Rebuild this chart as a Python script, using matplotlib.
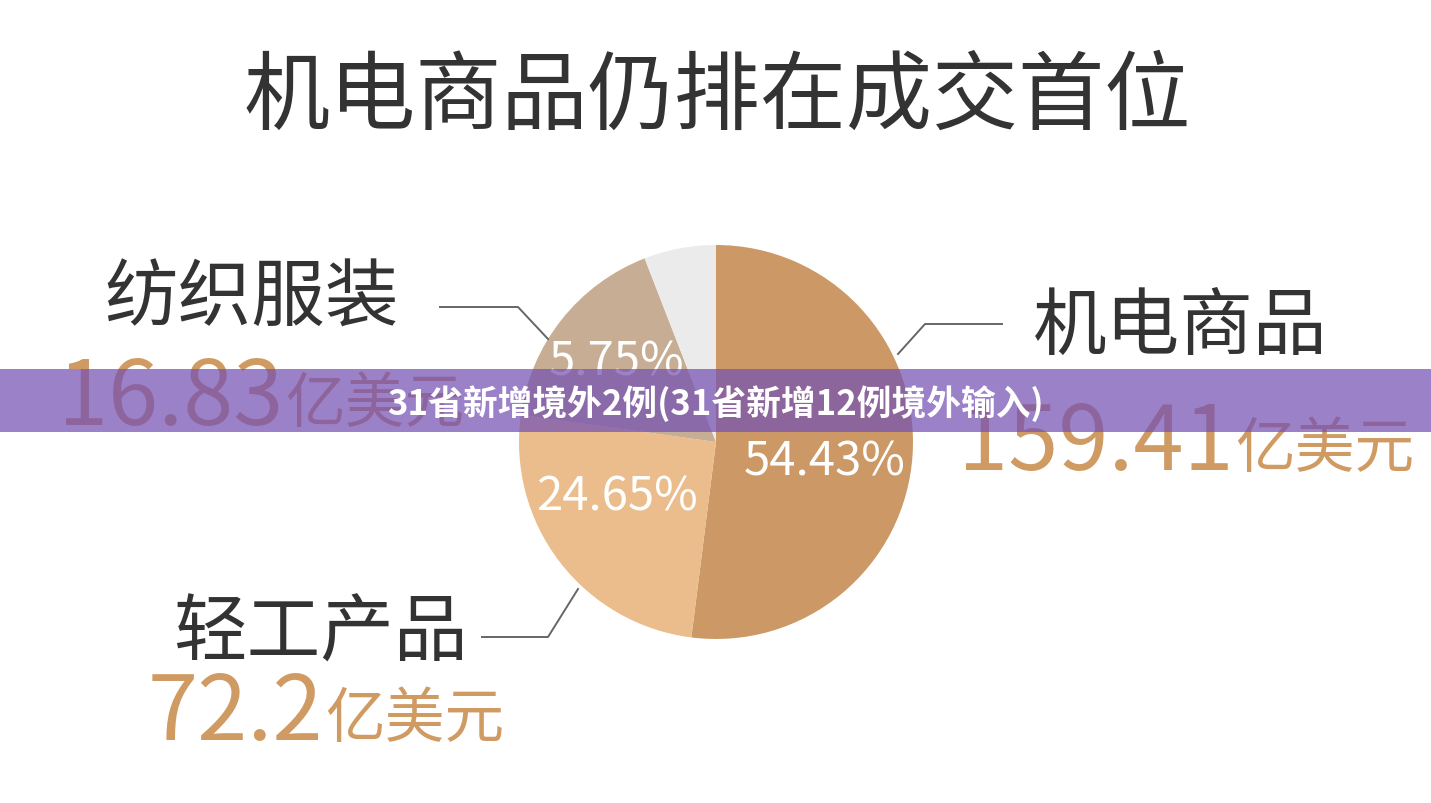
import matplotlib.pyplot as plt

plt.rcParams['font.family'] = ['Noto Sans CJK SC', 'DejaVu Sans']

# data (clockwise from 12 o'clock)
categories = ['机电商品', '轻工产品', '纺织服装', '其他']
# wedge sizes as drawn in the picture (the printed labels differ a little)
slice_shares = [52.0, 25.2, 16.9, 5.9]
pct_labels = ['54.43%', '24.65%', '5.75%', '']
amounts = ['159.41', '72.2', '16.83']
title = '机电商品仍排在成交首位'
banner = '31省新增境外2例(31省新增12例境外输入)'

colors = ['#CC9966', '#EBBC8C', '#C8AD95', '#EBEBEB']
W, H = 1431, 804

fig = plt.figure(figsize=(W / 100, H / 100), dpi=100)
ax = fig.add_axes([0, 0, 1, 1])


def y(p):
    # pixel row -> data y
    return H - p


cx, cy, r = 716, y(443), 197
wedges, _ = ax.pie(slice_shares, colors=colors, startangle=90, counterclock=False,
                   center=(cx, cy), radius=r, frame=True)
ax.set_xlim(0, W)
ax.set_ylim(0, H)
ax.set_aspect('equal')
ax.axis('off')

# percentage labels inside the slices
pct_pos = [(825, 462), (617, 497), (617, 362)]
for (px, py), s in zip(pct_pos, pct_labels[:3]):
    ax.text(px, y(py), s, color='white', fontsize=34, ha='center', va='center')

# title
ax.text(717, y(98), title, fontsize=62, color='#333333', ha='center', va='center')

# leader lines
line_kw = dict(color='#666666', lw=1.4)
ax.plot([898, 925, 1002], [y(355), y(325), y(325)], **line_kw)
ax.plot([440, 518, 548], [y(308), y(308), y(340)], **line_kw)
ax.plot([482, 548, 578], [y(638), y(638), y(590)], **line_kw)

# category names
ax.text(1180, y(328), categories[0], fontsize=53, color='#333333', ha='center', va='center')
ax.text(252, y(300), categories[2], fontsize=53, color='#333333', ha='center', va='center')
ax.text(320, y(635), categories[1], fontsize=53, color='#333333', ha='center', va='center')

# amounts
val_color = '#D09A63'
amt_pos = [(958, 445), (148, 715), (58, 400)]
for (px, py), a in zip(amt_pos, amounts):
    t = ax.text(px, y(py), a, fontsize=65, color=val_color, ha='left', va='center',
                fontweight='light')
    fig.canvas.draw()
    bb = t.get_window_extent()
    ax.text(bb.x1 + 2, y(py) - 6, '亿美元', fontsize=43, color=val_color,
            ha='left', va='center', fontweight='light')

# overlay banner
ax.axhspan(y(433), y(370), color='#7451B3', alpha=0.72, lw=0, zorder=5)
ax.text(715, y(404), banner, fontsize=25, color='white', fontweight='bold',
        ha='center', va='center', zorder=6)

fig.savefig('out.png', dpi=100, facecolor='white')
